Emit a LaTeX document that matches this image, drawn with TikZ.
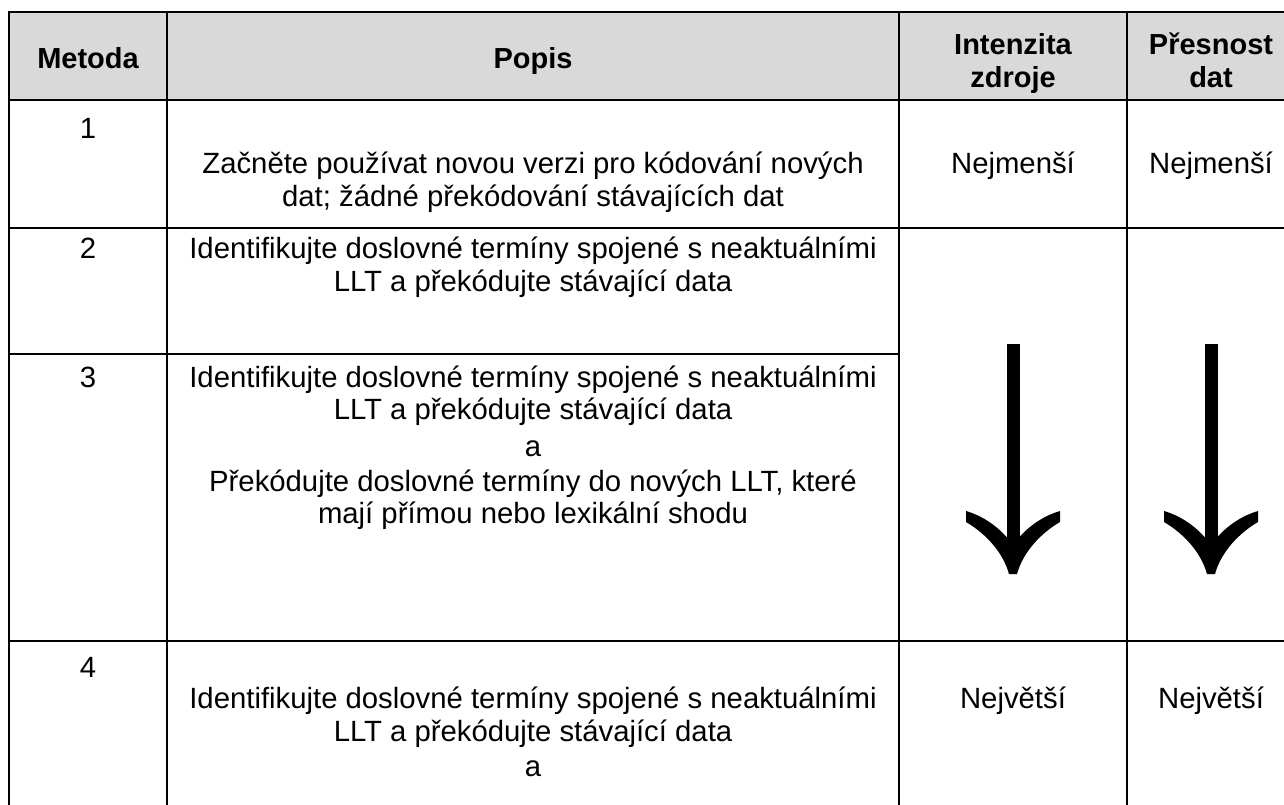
\documentclass[tikz,border=0pt]{standalone}
\usepackage{fontspec}
\setmainfont{Liberation Sans}
\definecolor{hdrgray}{HTML}{D9D9D9}
\tikzset{
  hline/.style={line width=2.6pt, black},
  vline/.style={line width=2pt, black},
  txt/.style={anchor=base, inner sep=0pt, font=\fontsize{29.3}{33}\selectfont},
  hdr/.style={txt, font=\fontsize{29}{33}\selectfont\bfseries},
  bigarrow/.pic={
    \fill[black] (-6.5,-230) rectangle (6.5,-34);
    \fill[black] (-6.5,-37) .. controls (-18,-50) and (-33,-59) .. (-47,-63)
      -- (-47,-52) .. controls (-28,-41) and (-10,-22) .. (-4,0)
      -- (4,0) .. controls (10,-22) and (28,-41) .. (47,-52)
      -- (47,-63) .. controls (33,-59) and (18,-50) .. (6.5,-37) -- cycle;
  }
}
\begin{document}
\begin{tikzpicture}[x=1pt,y=-1pt]
\useasboundingbox (0,0) rectangle (1284,805);
\clip (0,0) rectangle (1284,805);
\fill[white] (0,0) rectangle (1284,805);
% header background
\fill[hdrgray] (9,12) rectangle (1320,100);
% horizontal lines
\draw[hline] (8,12) -- (1320,12);
\draw[hline] (8,100) -- (1320,100);
\draw[hline] (8,228) -- (1320,228);
\draw[hline] (8,354) -- (899,354);
\draw[hline] (8,641) -- (1320,641);
% vertical lines
\draw[vline] (9,11) -- (9,810);
\draw[vline] (167,11) -- (167,810);
\draw[vline] (899,11) -- (899,810);
\draw[vline] (1127,11) -- (1127,810);
% header
\node[hdr] (hm) at (88,69) {Metoda};
\node[hdr] (hp) at (533,69) {Popis};
\node[hdr] (hi1) at (1013,55) {Intenzita};
\node[hdr] (hi2) at (1013,88) {zdroje};
\node[hdr] (hd1) at (1211,55) {Přesnost};
\node[hdr] (hd2) at (1211,88) {dat};
% row 1
\node[txt] (n1) at (88,139) {1};
\node[txt] (d1a) at (533,174) {Začněte používat novou verzi pro kódování nových};
\node[txt] (d1b) at (533,206) {dat; žádné překódování stávajících dat};
\node[txt] (i1) at (1013,174) {Nejmenší};
\node[txt] (p1) at (1211,174) {Nejmenší};
% row 2
\node[txt] (n2) at (88,258) {2};
\node[txt] (d2a) at (533,258) {Identifikujte doslovné termíny spojené s neaktuálními};
\node[txt] (d2b) at (533,291) {LLT a překódujte stávající data};
% row 3
\node[txt] (n3) at (88,387) {3};
\node[txt] (d3a) at (533,387) {Identifikujte doslovné termíny spojené s neaktuálními};
\node[txt] (d3b) at (533,419) {LLT a překódujte stávající data};
\node[txt] (d3c) at (533,456) {a};
\node[txt] (d3d) at (533,491) {Překódujte doslovné termíny do nových LLT, které};
\node[txt] (d3e) at (533,523) {mají přímou nebo lexikální shodu};
% arrows
\pic at (1013,574) {bigarrow};
\pic at (1211,574) {bigarrow};
% row 4
\node[txt] (n4) at (88,677) {4};
\node[txt] (d4a) at (533,708) {Identifikujte doslovné termíny spojené s neaktuálními};
\node[txt] (d4b) at (533,741) {LLT a překódujte stávající data};
\node[txt] (d4c) at (533,776) {a};
\node[txt] (i4) at (1013,708) {Největší};
\node[txt] (p4) at (1211,708) {Největší};
\end{tikzpicture}
\end{document}
